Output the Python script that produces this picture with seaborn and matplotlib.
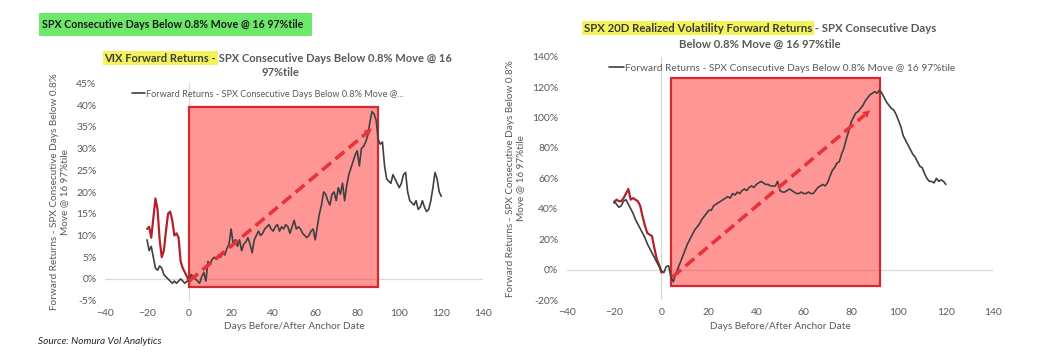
import numpy as np
import pandas as pd
import matplotlib
matplotlib.use("Agg")
import matplotlib.pyplot as plt
import seaborn as sns
from matplotlib.patches import Rectangle
from matplotlib.lines import Line2D
from matplotlib.ticker import FuncFormatter, MultipleLocator

# ---------------- data ----------------
days = list(range(-20, 121))
pre_days = list(range(-20, 1))

vix_fwd = [9, 6.5, 7.5, 5, 2.5, 2, 3, 2.5, 1, 0.5, 0, -0.5, -1, -0.5, -1, -0.5, 0, -0.5, -1, -0.5,
           -0.5, 1, 0.5, 0, -0.5, -1, 0.5, 1.5, -0.5, 4, 3.5, 4.5, 5, 4.5, 5.5, 5, 6, 5.5, 7, 8,
           11.5, 8, 9, 7.5, 9, 6.5, 8, 8.5, 9.5, 8, 6, 9, 10, 11, 10, 10.5, 11.5, 12, 12.5, 11.5,
           11, 12, 12.5, 11, 12, 11.5, 12.5, 12, 10.5, 12, 13.5, 11.5, 12, 11.5, 10.5, 10, 9.5, 10, 11, 11.5,
           9, 12, 15, 17, 20, 19.5, 18, 17, 19.5, 20, 18, 21, 19.5, 22, 18, 21.5, 24, 25.5, 27, 28.5,
           29.5, 26, 30, 30.5, 31.5, 33, 36, 38.5, 38, 36.5, 32, 31, 31.5, 26, 23, 22.5, 22, 24, 23, 22,
           21, 22, 24, 24.5, 20, 18, 17.5, 17, 18, 16, 16.5, 18, 16.5, 15.5, 16, 18, 21, 24.5, 23,
           20, 19]
vix_pre = [11.5, 12, 9.5, 14, 18.5, 16, 9, 5, 6.5, 11, 15, 15.5, 13.5, 10, 10.5, 9.5, 4, 2.5, 1.5, 0.5, -0.5]

rv_fwd = [45, 43, 41, 42, 45, 46, 43, 40, 37, 33, 30, 27, 24, 21, 17, 14, 11, 8, 5, 2,
          -1, -2, 2, 2.5, -5, -8, -3, 1, 5, 9, 13, 17, 20, 23, 26, 28, 30, 33, 35, 37,
          39, 39, 42, 43, 44, 45, 46, 47, 48, 47, 50, 49, 51, 50, 52, 53, 52, 54, 55, 54,
          56, 57, 58, 57, 56, 56, 55, 55, 55, 58, 52, 51, 51, 52, 53, 52, 51, 50, 50, 51,
          50, 50, 51, 50, 50, 52, 54, 55, 56, 55, 57, 61, 65, 67, 70, 71, 76, 80, 86, 91,
          97, 100, 103, 104, 106, 108, 111, 113, 115, 116, 117, 116, 118, 116, 113, 110, 108, 106, 105, 102,
          98, 94, 88, 85, 82, 79, 76, 74, 71, 68, 67, 63, 60, 58, 58, 57, 60, 58, 59, 58,
          56]
rv_pre = [44, 46, 45, 45, 47, 50, 53, 46, 47, 46, 45, 42, 35, 29, 24, 23, 22, 14, 7, 3, -2]

# highlight boxes (x0, x1, y0, y1) and trend arrows (x0, y0, x1, y1)
vix_box = (0, 90, -1.8, 39.5)
vix_arrow = (0, -0.5, 88, 35)
rv_box = (4, 92, -11, 126)
rv_arrow = (4.5, -5, 89, 106)

legend_left = "Forward Returns - SPX Consecutive Days Below 0.8% Move @..."
legend_right = "Forward Returns - SPX Consecutive Days Below 0.8% Move @ 16 97%tile"
ylab = "Forward Returns - SPX Consecutive Days Below 0.8%\nMove @ 16 97%tile"
xlab = "Days Before/After Anchor Date"

# ---------------- style ----------------
sns.set_theme(style="white")
plt.rcParams['font.family'] = ['Lato', 'DejaVu Sans']

GRAY = "#595959"
DARK = "#3a3a3a"
LINE = "#404040"
RED_LINE = "#b3202a"
BOX_EDGE = "#d42a2f"
ARROW = "#e8333b"

fig = plt.figure(figsize=(10.51, 3.64), dpi=100)
ax1 = fig.add_axes([0.0999, 0.174, 0.36, 0.597])
ax2 = fig.add_axes([0.5392, 0.1758, 0.4059, 0.6684])

df_fwd = pd.DataFrame({"day": days, "vix": vix_fwd, "rv": rv_fwd})
df_pre = pd.DataFrame({"day": pre_days, "vix": vix_pre, "rv": rv_pre})


def draw(ax, col, box, arrow, xlim, ylim, ystep, legend_text, leg_xy, legsize):
    ax.set_xlim(*xlim)
    ax.set_ylim(*ylim)
    ax.axhline(0, color="#d9d9d9", lw=0.9, zorder=1)
    ax.axvline(0, color="#d9d9d9", lw=0.9, zorder=1)
    x0, x1, y0, y1 = box
    ax.add_patch(Rectangle((x0, y0), x1 - x0, y1 - y0, facecolor=(1.0, 0.18, 0.18, 0.5),
                           edgecolor=BOX_EDGE, lw=1.6, zorder=2))
    sns.lineplot(data=df_pre, x="day", y=col, ax=ax, color=RED_LINE, lw=1.6, zorder=3)
    sns.lineplot(data=df_fwd, x="day", y=col, ax=ax, color=LINE, lw=1.2, zorder=4)
    ax0, ay0, ax_1, ay1 = arrow
    ax.plot([ax0, ax0 + 0.96 * (ax_1 - ax0)], [ay0, ay0 + 0.96 * (ay1 - ay0)],
            color=ARROW, lw=2.6, ls=(0, (3.2, 1.6)), zorder=5)
    ax.annotate("", xy=(ax_1, ay1), xytext=(ax0 + 0.9 * (ax_1 - ax0), ay0 + 0.9 * (ay1 - ay0)),
                arrowprops=dict(arrowstyle="-|>", color=ARROW, lw=0.1, mutation_scale=13),
                zorder=6)
    for s in ax.spines.values():
        s.set_visible(False)
    ax.xaxis.set_major_locator(MultipleLocator(20))
    ax.yaxis.set_major_locator(MultipleLocator(ystep))
    ax.yaxis.set_major_formatter(FuncFormatter(lambda v, p: f"{v:.0f}%"))
    ax.tick_params(axis="both", length=0, labelsize=7.5, labelcolor=GRAY, pad=6)
    ax.set_xlabel(xlab, fontsize=7.2, color=GRAY, labelpad=3)
    ax.set_ylabel(ylab, fontsize=7.2, color=GRAY, labelpad=5)
    h = Line2D([], [], color=LINE, lw=1.2)
    ax.legend([h], [legend_text], loc="center left", bbox_to_anchor=leg_xy, frameon=False,
              fontsize=legsize, labelcolor=GRAY, handlelength=1.4, handletextpad=0.1,
              borderpad=0, borderaxespad=0)


draw(ax1, "vix", vix_box, vix_arrow, (-40, 140), (-5, 45), 5, legend_left, (0.072, 0.951), 6.6)
draw(ax2, "rv", rv_box, rv_arrow, (-40, 140), (-20, 140), 20, legend_right, (0.1, 0.953), 7.3)

# ---------------- titles ----------------
fig.canvas.draw()
renderer = fig.canvas.get_renderer()
HIGHLIGHT = "#f4f45a"


def rich_line(xc_px, y_px, parts, size):
    texts = []
    for s, hc in parts:
        kw = {}
        if hc:
            kw["bbox"] = dict(facecolor=hc, edgecolor="none", boxstyle="square,pad=0.15")
        t = fig.text(0, 1 - y_px / 364, s, fontsize=size, fontweight="bold",
                     color=DARK if hc else GRAY, va="center", ha="left", **kw)
        texts.append(t)
    widths = [t.get_window_extent(renderer).width for t in texts]
    x = xc_px - sum(widths) / 2
    for t, w in zip(texts, widths):
        t.set_x(x / 1051)
        x += w


rich_line(278, 58, [("VIX Forward Returns -", HIGHLIGHT), (" SPX Consecutive Days Below 0.8% Move @ 16", None)], 8)
rich_line(280, 73, [("97%tile", None)], 8)
rich_line(760, 28, [("SPX 20D Realized Volatility Forward Returns", HIGHLIGHT), (" - SPX Consecutive Days", None)], 8.2)
rich_line(760, 44, [("Below 0.8% Move @ 16 97%tile", None)], 8.2)

# green header box
fig.patches.append(Rectangle((39 / 1051, 1 - 36 / 364), 273 / 1051, 23 / 364,
                             transform=fig.transFigure, facecolor="#6ee86a", edgecolor="none"))
fig.text(173 / 1051, 1 - 24.5 / 364, "SPX Consecutive Days Below 0.8% Move @ 16 97%tile",
         fontsize=7.7, fontweight="bold", color="#1a1a1a", ha="center", va="center")

fig.text(38 / 1051, 1 - 342 / 364, "Source: Nomura Vol Analytics", fontsize=7.2,
         fontstyle="italic", color="#262626", ha="left", va="center")

fig.savefig("out.png", dpi=100, facecolor="white")
